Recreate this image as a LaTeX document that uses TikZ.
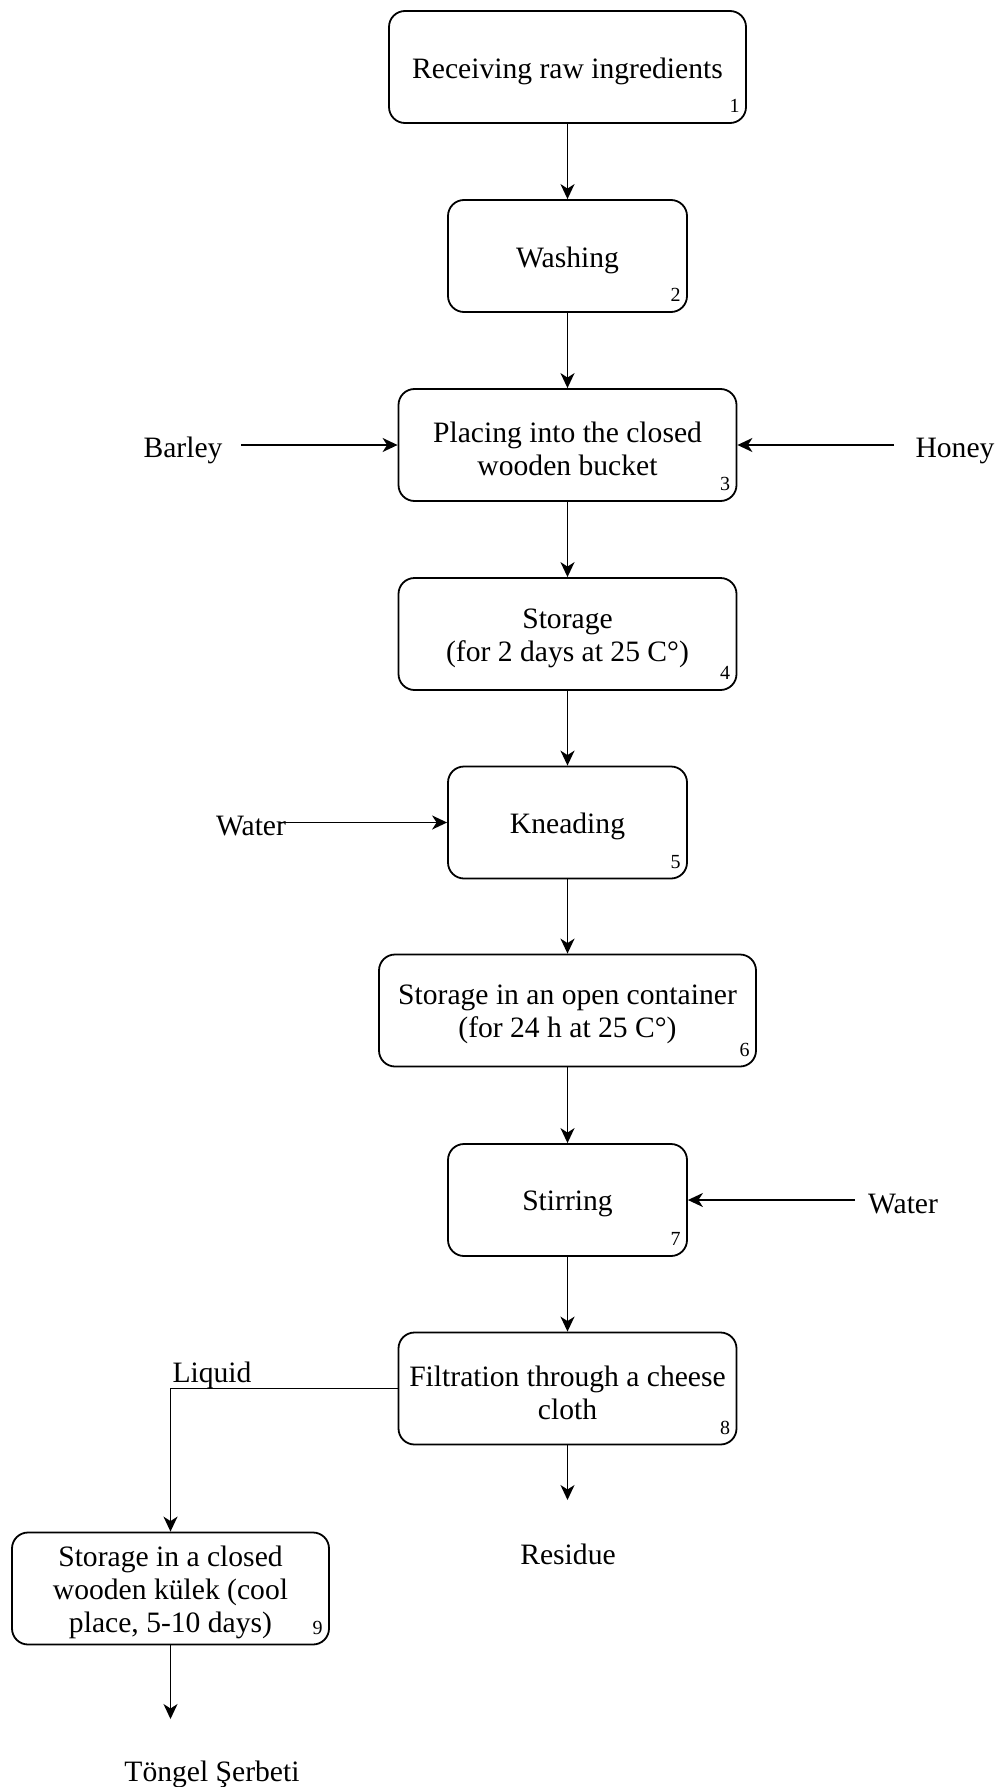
\documentclass[tikz,border=0pt]{standalone}
\usepackage{fontspec}
\setmainfont{Liberation Serif}
\usetikzlibrary{arrows.meta}
\begin{document}
\begin{tikzpicture}[x=1pt,y=-1pt,
  stepbox/.style={draw, line width=1.8pt, rounded corners=16pt,
    minimum height=112pt, inner sep=0pt},
  steptext/.style={align=center, inner sep=0pt,
    font=\fontsize{29.6pt}{33pt}\selectfont},
  lbl/.style={font=\fontsize{29.6pt}{33pt}\selectfont, inner sep=0pt, anchor=base},
  num/.style={font=\fontsize{20pt}{22pt}\selectfont, inner sep=0pt, anchor=base east},
  flow/.style={line width=1.8pt, -{Stealth[length=15pt,width=14pt,inset=4.5pt]}}
]
\useasboundingbox (0,0) rectangle (1000,1787);

% process step frames
\node[stepbox, minimum width=357pt] (b1) at (567.5,67)    {};
\node[stepbox, minimum width=239pt] (b2) at (567.5,256)   {};
\node[stepbox, minimum width=338pt] (b3) at (567.5,445)   {};
\node[stepbox, minimum width=338pt] (b4) at (567.5,634)   {};
\node[stepbox, minimum width=239pt] (b5) at (567.5,822.5) {};
\node[stepbox, minimum width=377pt] (b6) at (567.5,1010.5){};
\node[stepbox, minimum width=239pt] (b7) at (567.5,1200)  {};
\node[stepbox, minimum width=338pt] (b8) at (567.5,1388.5){};
\node[stepbox, minimum width=317pt] (b9) at (170.5,1588.5){};

% step descriptions, set slightly below each frame's centre
\node[steptext] (t1) at ([yshift=-4pt]b1.center) {Receiving raw ingredients};
\node[steptext] (t2) at ([yshift=-4pt]b2.center) {Washing};
\node[steptext] (t3) at ([yshift=-4pt]b3.center) {Placing into the closed\\wooden bucket};
\node[steptext] (t4) at ([yshift=-4pt]b4.center) {Storage\\(for 2 days at 25 C°)};
\node[steptext] (t5) at ([yshift=-4pt]b5.center) {Kneading};
\node[steptext] (t6) at ([yshift=-4pt]b6.center) {Storage in an open container\\(for 24 h at 25 C°)};
\node[steptext] (t7) at ([yshift=-4pt]b7.center) {Stirring};
\node[steptext] (t8) at ([yshift=-4pt]b8.center) {Filtration through a cheese\\cloth};
\node[steptext] (t9) at ([yshift=-4pt]b9.center) {Storage in a closed\\wooden külek (cool\\place, 5-10 days)};

% step numbers
\foreach \i in {1,...,9}
  \node[num] (n\i) at ([xshift=-7pt,yshift=11pt]b\i.south east) {\i};

% inputs and outputs
\node[lbl] (barley)  at (183,457)  {Barley};
\node[lbl] (honey)   at (955,457)  {Honey};
\node[lbl] (waterA)  at (251,835)  {Water};
\node[lbl] (waterB)  at (903,1213) {Water};
\node[lbl] (liquid)  at (212,1382) {Liquid};
\node[lbl] (residue) at (568,1564) {Residue};
\node[lbl] (product) at (212,1781) {Töngel Şerbeti};

\coordinate (barleyEnd) at (241,445);
\coordinate (honeyEnd)  at (894,445);
\coordinate (waterAEnd) at (280,822.5);
\coordinate (waterBEnd) at (855,1200);
\coordinate (residueTip) at (567.5,1500);
\coordinate (productTip) at (170.5,1719);

% main flow
\draw[flow] (b1) -- (b2);
\draw[flow] (b2) -- (b3);
\draw[flow] (b3) -- (b4);
\draw[flow] (b4) -- (b5);
\draw[flow] (b5) -- (b6);
\draw[flow] (b6) -- (b7);
\draw[flow] (b7) -- (b8);
\draw[flow] (b8.west) -| (b9.north);
\draw[flow] (b8.south) -- (residueTip);
\draw[flow] (b9.south) -- (productTip);

% side streams
\draw[flow] (barleyEnd) -- (b3.west);
\draw[flow] (honeyEnd) -- (b3.east);
\draw[flow] (waterAEnd) -- (b5.west);
\draw[flow] (waterBEnd) -- (b7.east);
\end{tikzpicture}
\end{document}
